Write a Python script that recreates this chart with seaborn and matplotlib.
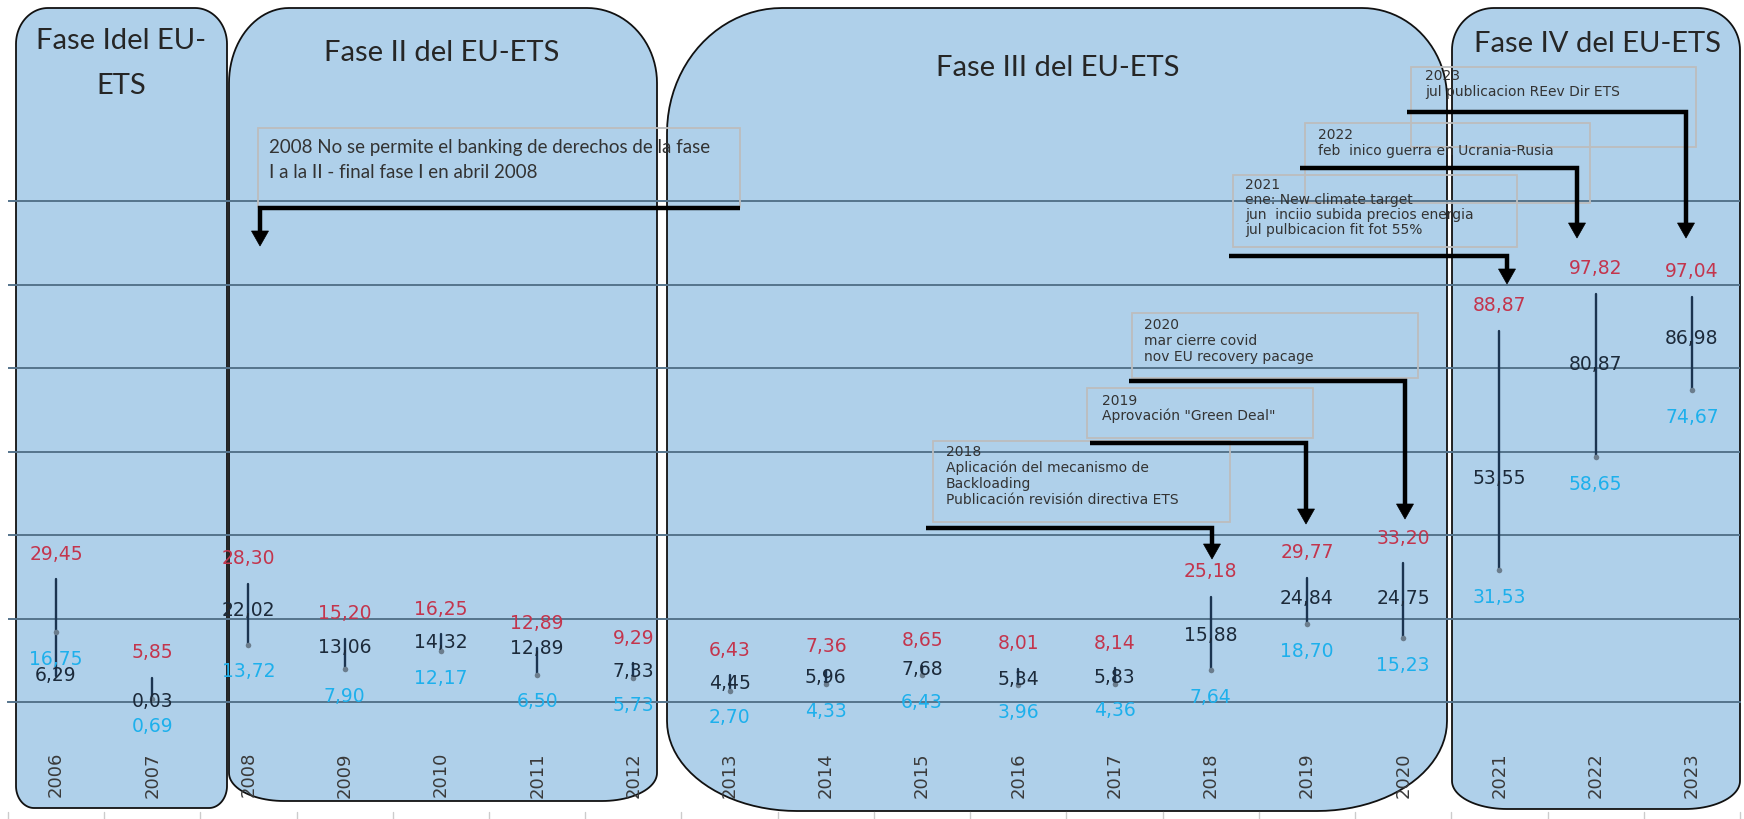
import numpy as np
import pandas as pd
import matplotlib
matplotlib.use("Agg")
import matplotlib.pyplot as plt
import matplotlib.transforms as mtransforms
from matplotlib.patches import Polygon
from matplotlib.lines import Line2D
import seaborn as sns

# ---------------- data ----------------
years = [str(y) for y in range(2006, 2024)]
precio_max = [29.45, 5.85, 28.30, 15.20, 16.25, 12.89, 9.29, 6.43, 7.36, 8.65,
              8.01, 8.14, 25.18, 29.77, 33.20, 88.87, 97.82, 97.04]
precio_medio = [6.29, 0.03, 22.02, 13.06, 14.32, 12.89, 7.33, 4.45, 5.96, 7.68,
                5.34, 5.83, 15.88, 24.84, 24.75, 53.55, 80.87, 86.98]
precio_min = [16.75, 0.69, 13.72, 7.90, 12.17, 6.50, 5.73, 2.70, 4.33, 6.43,
              3.96, 4.36, 7.64, 18.70, 15.23, 31.53, 58.65, 74.67]

fases = ["Fase Idel EU-\nETS", "Fase II del EU-ETS", "Fase III del EU-ETS", "Fase IV del EU-ETS"]

ev_2008 = ["2008 No se permite el banking de derechos de la fase",
           "I a la II - final fase I en abril 2008"]
ev_2018 = ["2018", "Aplicación del mecanismo de", "Backloading",
           "Publicación revisión directiva ETS"]
ev_2019 = ["2019", "Aprovación \"Green Deal\""]
ev_2020 = ["2020", "mar cierre covid", "nov EU recovery pacage"]
ev_2021 = ["2021", "ene: New climate target", "jun  inciio subida precios energia",
           "jul pulbicacion fit fot 55%"]
ev_2022 = ["2022", "feb  inico guerra en Ucrania-Rusia"]
ev_2023 = ["2023", "jul publicacion REev Dir ETS"]

# ---------------- style ----------------
sns.set_theme(style="white")
plt.rcParams["font.family"] = ["DejaVu Sans"]

RED = "#C3354D"
BLUE = "#1DB0EC"
DARK = "#1c2a3a"
GRID = "#55748c"
BOXFILL = "#AFD0EA"
TXT = "#3a3a3a"
TITLE_FONT = ["Lato", "DejaVu Sans"]

W, H = 1744, 819
fig = plt.figure(figsize=(W / 100, H / 100), dpi=100)
fig.patch.set_facecolor("white")

# axes geometry (pixels)
x_left, x_right = 7.9, 1740.0
y_zero, px_per_unit = 702.0, 83.5 / 20
ytop_val = 121
y_top = y_zero - ytop_val * px_per_unit
ax = fig.add_axes([x_left / W, 1 - y_zero / H, (x_right - x_left) / W, (y_zero - y_top) / H])
ax.set_facecolor("none")

# pixel transform (origin top-left, y down)
PX = mtransforms.Affine2D().scale(1 / 100, -1 / 100).translate(0, H / 100) + fig.dpi_scale_trans


def rounded_poly(x0, y0, x1, y1, tl, tr, br, bl, n=24):
    pts = []

    def arc(cx, cy, rx, ry, t0, t1):
        for t in np.linspace(t0, t1, n):
            pts.append((cx + rx * np.cos(t), cy + ry * np.sin(t)))
    arc(x0 + tl[0], y0 + tl[1], tl[0], tl[1], np.pi, 1.5 * np.pi)
    arc(x1 - tr[0], y0 + tr[1], tr[0], tr[1], 1.5 * np.pi, 2 * np.pi)
    arc(x1 - br[0], y1 - br[1], br[0], br[1], 0, 0.5 * np.pi)
    arc(x0 + bl[0], y1 - bl[1], bl[0], bl[1], 0.5 * np.pi, np.pi)
    return np.array(pts)


boxes = [
    (16, 8, 227, 808, (32, 36), (32, 36), (18, 22), (18, 22)),
    (229, 8, 657, 801, (60, 75), (70, 75), (55, 28), (55, 28)),
    (667, 8, 1447, 811, (115, 125), (85, 90), (130, 90), (130, 90)),
    (1452, 8, 1740, 809, (42, 42), (42, 42), (55, 28), (55, 28)),
]
for b in boxes:
    poly = Polygon(rounded_poly(*b), closed=True, facecolor=BOXFILL, edgecolor="#111111",
                   lw=1.3, transform=PX, clip_on=False, zorder=0.1)
    ax.add_patch(poly)

# phase titles
title_pos = [None, (442, 53), (1058, 68), (1598, 44)]
for txt, p in zip(fases, title_pos):
    if p is None:
        continue
    ax.text(p[0], p[1], txt, transform=PX, ha="center", va="center", fontsize=21,
            family=TITLE_FONT, color="#262626", zorder=5, clip_on=False)
l1, l2 = fases[0].split("\n")
ax.text(121, 41, l1, transform=PX, ha="center", va="center", fontsize=21,
        family=TITLE_FONT, color="#262626", zorder=5)
ax.text(121, 86, l2, transform=PX, ha="center", va="center", fontsize=21,
        family=TITLE_FONT, color="#262626", zorder=5)

# grid & axis
ax.set_axisbelow(True)
pos = np.arange(len(years))

# ---------------- high-low lines (seaborn) ----------------
seg = pd.DataFrame({
    "pos": np.concatenate([pos, pos]),
    "valor": np.concatenate([np.maximum.reduce([precio_max, precio_medio, precio_min]),
                             np.minimum.reduce([precio_max, precio_medio, precio_min])]),
    "anio": years + years,
})
sns.lineplot(data=seg, x="pos", y="valor", units="anio", estimator=None, sort=False,
             color="#1b3450", lw=1.7, ax=ax, legend=False, zorder=3)
sns.scatterplot(x=pos, y=precio_min, s=16, color="#6b7d8d", linewidth=0, ax=ax, zorder=4)
ax.set_xlabel("")
ax.set_ylabel("")
ax.set_xlim(-0.5, len(years) - 0.5)
ax.set_ylim(0, ytop_val)

ax.set_yticks(np.arange(20, 121, 20))
ax.yaxis.grid(True, color=GRID, lw=1.4)
ax.tick_params(axis="y", left=False, labelleft=False)
for s in ["top", "left", "right"]:
    ax.spines[s].set_visible(False)
ax.spines["bottom"].set_color(GRID)
ax.spines["bottom"].set_linewidth(1.4)

ax.set_xticks(pos)
ax.set_xticklabels(years, rotation=90, fontsize=13, color=TXT)
ax.set_xticks(np.arange(-0.5, len(years), 1), minor=True)
ax.tick_params(axis="x", which="major", length=0, pad=36)
ax.tick_params(axis="x", which="minor", direction="in", length=6.5, width=1, color=GRID)

# faint ticks at the very bottom
for b in np.arange(-0.5, len(years), 1):
    xp = x_left + (b + 0.5) * (x_right - x_left) / len(years)
    ax.add_line(Line2D([xp, xp], [812, 819], transform=PX, color="#cccccc", lw=1, clip_on=False))


def fmt(v):
    return f"{v:.2f}".replace(".", ",")


LBL = 13.5
for i in range(len(years)):
    ax.annotate(fmt(precio_max[i]), (pos[i], precio_max[i]), xytext=(0, 18),
                textcoords="offset points", ha="center", va="center", fontsize=LBL,
                color=RED, zorder=6, annotation_clip=False)
    ax.annotate(fmt(precio_medio[i]), (pos[i], precio_medio[i]), xytext=(0, 0),
                textcoords="offset points", ha="center", va="center", fontsize=LBL,
                color=DARK, zorder=6, annotation_clip=False)
    ax.annotate(fmt(precio_min[i]), (pos[i], precio_min[i]), xytext=(0, -19.5),
                textcoords="offset points", ha="center", va="center", fontsize=LBL,
                color=BLUE, zorder=6, annotation_clip=False)


# ---------------- event boxes and arrows ----------------
def event(lines, box, txt_xy, dy, arrow, fontsize=10, family=None):
    x0, y0, x1, y1 = box
    ax.add_patch(Polygon([(x0, y0), (x1, y0), (x1, y1), (x0, y1)], closed=True, fill=False,
                         edgecolor="#bdbdbd", lw=1.3, transform=PX, clip_on=False, zorder=5))
    tx, ty = txt_xy
    for k, ln in enumerate(lines):
        kw = {}
        if family:
            kw["family"] = family
        ax.text(tx, ty + k * dy, ln, transform=PX, ha="left", va="center",
                fontsize=fontsize, color="#333333", zorder=6, clip_on=False, **kw)
    xs, xe, yh, ytip = arrow
    hh, hw = 15, 8.5
    ax.add_line(Line2D([xs, xe, xe], [yh, yh, ytip - hh + 2], transform=PX, color="black",
                       lw=3.2, solid_joinstyle="miter", solid_capstyle="butt",
                       clip_on=False, zorder=7))
    ax.add_patch(Polygon([(xe - hw, ytip - hh), (xe + hw, ytip - hh), (xe, ytip)], closed=True,
                         facecolor="black", edgecolor="black", lw=0.5, transform=PX,
                         clip_on=False, zorder=7))


event(ev_2008, (258, 128, 740, 207), (269, 147), 25, (740, 260, 208, 246),
      fontsize=13.5, family=TITLE_FONT)
event(ev_2018, (933, 441, 1230, 522), (946, 452), 16, (926, 1212, 528, 559))
event(ev_2019, (1087, 388, 1313, 438), (1102, 401), 15, (1090, 1306, 443, 524))
event(ev_2020, (1132, 313, 1418, 378), (1144, 325), 16, (1129, 1405, 381, 519))
event(ev_2021, (1233, 175, 1517, 247), (1245, 185), 15, (1229, 1507, 256, 284))
event(ev_2022, (1305, 123, 1590, 203), (1318, 135), 16, (1300, 1577, 168, 238))
event(ev_2023, (1411, 67, 1696, 147), (1425, 76), 16, (1407, 1686, 112, 238))

fig.savefig("out.png", dpi=100, facecolor="white")
